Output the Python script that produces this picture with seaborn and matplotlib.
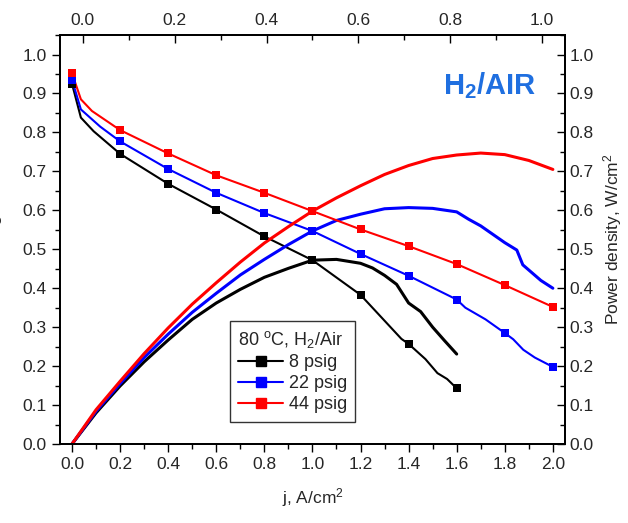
import matplotlib
matplotlib.use("Agg")
import matplotlib.pyplot as plt
from matplotlib.lines import Line2D
from matplotlib.ticker import MultipleLocator
import seaborn as sns

# Polarization curves (cell voltage vs current density)
j_v_8 = [0, 0.037, 0.09, 0.2, 0.4, 0.6, 0.8, 1.0, 1.2, 1.37, 1.4, 1.47, 1.52, 1.56, 1.6]
v_8 = [0.925, 0.838, 0.803, 0.745, 0.668, 0.602, 0.533, 0.472, 0.383, 0.27, 0.257, 0.218, 0.182, 0.167, 0.143]
j_v_22 = [0, 0.037, 0.117, 0.2, 0.4, 0.6, 0.8, 1.0, 1.2, 1.4, 1.6, 1.636, 1.72, 1.8, 1.835, 1.877, 1.925, 2.0]
v_22 = [0.935, 0.859, 0.815, 0.777, 0.706, 0.645, 0.593, 0.547, 0.488, 0.432, 0.371, 0.35, 0.32, 0.285, 0.269, 0.242, 0.222, 0.198]
j_v_44 = [0, 0.037, 0.083, 0.2, 0.4, 0.6, 0.8, 1.0, 1.2, 1.4, 1.6, 1.8, 2.0]
v_44 = [0.952, 0.885, 0.855, 0.806, 0.746, 0.690, 0.645, 0.598, 0.551, 0.508, 0.462, 0.408, 0.352]

# Marked points on the polarization curves
j_mark_8 = [0, 0.2, 0.4, 0.6, 0.8, 1.0, 1.2, 1.4, 1.6]
v_mark_8 = [0.925, 0.745, 0.668, 0.602, 0.533, 0.472, 0.383, 0.257, 0.143]
j_mark_22 = [0, 0.2, 0.4, 0.6, 0.8, 1.0, 1.2, 1.4, 1.6, 1.8, 2.0]
v_mark_22 = [0.935, 0.777, 0.706, 0.645, 0.593, 0.547, 0.488, 0.432, 0.371, 0.285, 0.198]
j_mark_44 = [0, 0.2, 0.4, 0.6, 0.8, 1.0, 1.2, 1.4, 1.6, 1.8, 2.0]
v_mark_44 = [0.952, 0.806, 0.746, 0.690, 0.645, 0.598, 0.551, 0.508, 0.462, 0.408, 0.352]

# Power density curves
j_p_8 = [0, 0.1, 0.2, 0.3, 0.4, 0.5, 0.6, 0.7, 0.8, 0.9, 1.0, 1.1, 1.2, 1.25, 1.3, 1.35, 1.4, 1.45, 1.5, 1.55, 1.6]
p_8 = [0, 0.08, 0.149, 0.211, 0.267, 0.32, 0.362, 0.397, 0.428, 0.451, 0.472, 0.474, 0.464, 0.452, 0.433, 0.41, 0.362, 0.34, 0.30, 0.265, 0.231]
j_p_22 = [0, 0.1, 0.2, 0.3, 0.4, 0.5, 0.6, 0.7, 0.8, 0.9, 1.0, 1.1, 1.2, 1.3, 1.4, 1.5, 1.6, 1.65, 1.7, 1.8, 1.85, 1.875, 1.95, 2.0]
p_22 = [0, 0.084, 0.155, 0.222, 0.282, 0.338, 0.387, 0.434, 0.474, 0.512, 0.547, 0.574, 0.590, 0.604, 0.607, 0.605, 0.596, 0.577, 0.560, 0.517, 0.498, 0.46, 0.42, 0.40]
j_p_44 = [0, 0.1, 0.2, 0.3, 0.4, 0.5, 0.6, 0.7, 0.8, 0.9, 1.0, 1.1, 1.2, 1.3, 1.4, 1.5, 1.6, 1.7, 1.8, 1.9, 2.0]
p_44 = [0, 0.088, 0.161, 0.232, 0.298, 0.359, 0.414, 0.467, 0.516, 0.558, 0.598, 0.632, 0.663, 0.692, 0.715, 0.733, 0.742, 0.747, 0.743, 0.728, 0.705]

labels = ["8 psig", "22 psig", "44 psig"]
colors = ["black", "#0000ff", "#ff0000"]

sns.set_style("ticks")
plt.rcParams["font.family"] = ["Liberation Sans", "DejaVu Sans"]
plt.rcParams["mathtext.default"] = "regular"

fig = plt.figure(figsize=(6.28, 5.23), dpi=100)
ax = fig.add_axes([0.0955, 0.151, 0.804, 0.782])

series = [
    (j_v_8, v_8, j_mark_8, v_mark_8, j_p_8, p_8),
    (j_v_22, v_22, j_mark_22, v_mark_22, j_p_22, p_22),
    (j_v_44, v_44, j_mark_44, v_mark_44, j_p_44, p_44),
]
for (jv, v, jm, vm, jp, p), c in zip(series, colors):
    sns.lineplot(x=jv, y=v, ax=ax, color=c, lw=1.5, sort=False, estimator=None)
    sns.lineplot(x=jp, y=p, ax=ax, color=c, lw=2.2, sort=False, estimator=None)
    sns.scatterplot(x=jm, y=vm, ax=ax, color=c, marker="s", s=40, linewidth=0, zorder=5)

ax.set_xlim(-0.05, 2.05)
ax.set_ylim(0, 1.05)
ax.xaxis.set_major_locator(MultipleLocator(0.2))
ax.xaxis.set_minor_locator(MultipleLocator(0.1))
ax.yaxis.set_major_locator(MultipleLocator(0.1))
ax.yaxis.set_minor_locator(MultipleLocator(0.05))
ax.tick_params(which="major", direction="out", length=6, width=1, labelsize=12.5, color="black")
ax.tick_params(which="minor", direction="out", length=3.5, width=1, color="black")
ax.set_xlabel("j, A/cm$^2$", fontsize=12.5, labelpad=10)
# the left label sits mostly past the figure edge, as in the original
ax.set_ylabel("Cell voltage, V", fontsize=12.5, labelpad=14.5)

# right axis: power density
ax_r = ax.twinx()
ax_r.set_ylim(0, 1.05)
ax_r.yaxis.set_major_locator(MultipleLocator(0.1))
ax_r.yaxis.set_minor_locator(MultipleLocator(0.05))
ax_r.tick_params(which="major", direction="in", length=6, width=1, labelsize=12.5, color="black")
ax_r.tick_params(which="minor", direction="in", length=3.5, width=1, color="black")
ax_r.set_ylabel("Power density, W/cm$^2$", fontsize=12.5, labelpad=5)

# top axis
ax_t = ax.twiny()
ax_t.set_xlim(-0.05, 1.05)
ax_t.xaxis.set_major_locator(MultipleLocator(0.2))
ax_t.xaxis.set_minor_locator(MultipleLocator(0.1))
ax_t.tick_params(which="major", direction="in", length=6, width=1, labelsize=12.5, color="black", pad=5)
ax_t.tick_params(which="minor", direction="in", length=3.5, width=1, color="black")

for a in (ax, ax_r, ax_t):
    for s in a.spines.values():
        s.set_color("black")
        s.set_linewidth(1.2)

handles = [Line2D([], [], color=c, lw=1.5, marker="s", markersize=6.5) for c in colors]
leg = ax.legend(handles, labels, title="80 $^{o}$C, H$_2$/Air", loc="lower left",
                bbox_to_anchor=(0.337, 0.055), fontsize=13, title_fontsize=13,
                frameon=True, fancybox=False, edgecolor="black", handlelength=2.5,
                handletextpad=0.3, labelspacing=0.22, borderpad=0.45, borderaxespad=0)
leg.get_frame().set_linewidth(1.0)
leg._legend_box.align = "left"

ax.text(0.85, 0.855, "H$_2$/AIR", transform=ax.transAxes, ha="center", va="baseline",
        fontsize=21, fontweight="bold", color="#1f6fe0")

fig.savefig("out.png", dpi=100)
